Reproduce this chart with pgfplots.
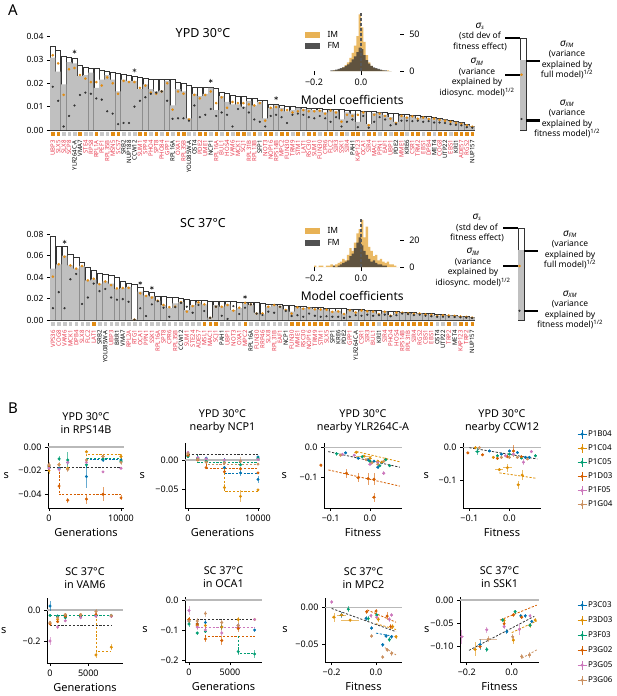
\documentclass[border=0pt]{standalone}
\usepackage{pgfplots}
\pgfplotsset{compat=1.18}
\usepackage{pgfplotstable}
\usepackage{fontspec}
\setmainfont{Noto Sans}
\definecolor{c1}{RGB}{1,115,178}
\definecolor{c2}{RGB}{222,143,5}
\definecolor{c3}{RGB}{2,158,115}
\definecolor{c4}{RGB}{213,94,0}
\definecolor{c5}{RGB}{204,120,188}
\definecolor{c6}{RGB}{202,145,97}
\definecolor{gred}{RGB}{232,58,78}
\definecolor{ora}{RGB}{226,140,20}
\definecolor{barg}{RGB}{192,192,192}
\definecolor{lsq}{RGB}{200,200,200}
\definecolor{imc}{RGB}{232,178,85}
\definecolor{fmc}{RGB}{50,50,50}
\newcommand{\R}[1]{\textcolor{gred}{#1}}
\newcommand{\fs}[2]{\fontsize{#1}{#2}\selectfont}
\newcommand{\sig}[1]{{\fs{10}{10.5}\itshape σ}\textsubscript{\itshape #1}}

\pgfplotstableread{
i s fm im xm sq
1 0.0360 0.0310 0.0320 0.0185 o
2 0.0343 0.0250 0.0285 0.0125 o
3 0.0314 0.0195 0.0150 0.0015 g
4 0.0310 0.0290 0.0260 0.0060 g
5 0.0307 0.0285 0.0265 0.0105 g
6 0.0279 0.0230 0.0235 0.0150 o
7 0.0270 0.0235 0.0220 0.0160 g
8 0.0264 0.0245 0.0205 0.0155 g
9 0.0264 0.0180 0.0205 0.0135 o
10 0.0254 0.0215 0.0190 0.0130 g
11 0.0250 0.0235 0.0225 0.0080 g
12 0.0246 0.0215 0.0200 0.0070 o
13 0.0243 0.0165 0.0155 0.0025 o
14 0.0240 0.0215 0.0210 0.0030 g
15 0.0233 0.0210 0.0205 0.0030 g
16 0.0229 0.0210 0.0205 0.0100 g
17 0.0226 0.0175 0.0180 0.0125 o
18 0.0221 0.0195 0.0190 0.0140 o
19 0.0218 0.0175 0.0160 0.0155 g
20 0.0217 0.0165 0.0155 0.0160 o
21 0.0217 0.0170 0.0165 0.0165 g
22 0.0217 0.0210 0.0200 0.0125 o
23 0.0216 0.0105 0.0087 0.0048 g
24 0.0203 0.0175 0.0165 0.0050 o
25 0.0200 0.0165 0.0155 0.0050 o
26 0.0193 0.0050 0.0045 0.0040 g
27 0.0183 0.0155 0.0150 0.0105 g
28 0.0183 0.0145 0.0135 0.0055 o
29 0.0183 0.0155 0.0150 0.0065 o
30 0.0183 0.0180 0.0165 0.0090 g
31 0.0179 0.0085 0.0115 0.0060 o
32 0.0160 0.0145 0.0140 0.0075 g
33 0.0157 0.0120 0.0095 0.0065 o
34 0.0150 0.0110 0.0120 0.0015 g
35 0.0146 0.0110 0.0115 0.0090 o
36 0.0143 0.0100 0.0115 0.0095 o
37 0.0136 0.0125 0.0110 0.0075 g
38 0.0136 0.0105 0.0105 0.0045 o
39 0.0129 0.0120 0.0115 0.0035 g
40 0.0129 0.0050 0.0040 0.0015 o
41 0.0111 0.0095 0.0095 0.0060 o
42 0.0111 0.0105 0.0098 0.0065 g
43 0.0107 0.0095 0.0085 0.0055 o
44 0.0103 0.0080 0.0085 0.0030 o
45 0.0100 0.0085 0.0075 0.0065 g
46 0.0097 0.0095 0.0080 0.0070 o
47 0.0096 0.0090 0.0085 0.0065 g
48 0.0093 0.0088 0.0080 0.0055 o
49 0.0092 0.0085 0.0080 0.0050 o
50 0.0091 0.0085 0.0082 0.0060 g
51 0.0090 0.0075 0.0070 0.0050 o
52 0.0089 0.0085 0.0083 0.0035 o
53 0.0088 0.0080 0.0075 0.0055 g
54 0.0087 0.0045 0.0035 0.0015 o
55 0.0085 0.0075 0.0065 0.0035 g
56 0.0084 0.0070 0.0060 0.0045 o
57 0.0083 0.0035 0.0065 0.0012 o
58 0.0082 0.0078 0.0075 0.0060 g
59 0.0080 0.0025 0.0020 0.0010 o
60 0.0079 0.0072 0.0065 0.0035 o
61 0.0077 0.0074 0.0070 0.0055 g
62 0.0075 0.0065 0.0060 0.0045 o
63 0.0073 0.0055 0.0048 0.0020 g
64 0.0071 0.0035 0.0030 0.0025 o
65 0.0069 0.0062 0.0060 0.0040 o
66 0.0067 0.0055 0.0053 0.0040 g
67 0.0065 0.0060 0.0058 0.0038 o
68 0.0062 0.0050 0.0048 0.0040 o
69 0.0060 0.0055 0.0053 0.0035 g
70 0.0057 0.0050 0.0047 0.0038 o
71 0.0054 0.0050 0.0049 0.0032 g
72 0.0051 0.0045 0.0043 0.0032 o
73 0.0047 0.0044 0.0040 0.0030 o
74 0.0042 0.0038 0.0035 0.0025 g
75 0.0037 0.0035 0.0030 0.0022 o
76 0.0032 0.0030 0.0026 0.0020 o
77 0.0025 0.0022 0.0020 0.0012 o
78 0.0018 0.0015 0.0014 0.0010 o
}\topdata

\pgfplotstableread{
i s fm im xm sq
1 0.0780 0.0480 0.0405 0.0110 g
2 0.0690 0.0520 0.0520 0.0260 g
3 0.0690 0.0600 0.0590 0.0110 g
4 0.0610 0.0510 0.0510 0.0380 g
5 0.0590 0.0480 0.0480 0.0430 g
6 0.0535 0.0505 0.0505 0.0150 g
7 0.0490 0.0370 0.0370 0.0210 g
8 0.0467 0.0380 0.0385 0.0340 o
9 0.0435 0.0340 0.0335 0.0270 g
10 0.0430 0.0360 0.0360 0.0290 g
11 0.0420 0.0340 0.0325 0.0210 g
12 0.0400 0.0290 0.0295 0.0190 g
13 0.0360 0.0300 0.0298 0.0195 g
14 0.0340 0.0310 0.0300 0.0170 g
15 0.0330 0.0005 0.0003 0.0002 g
16 0.0305 0.0265 0.0250 0.0110 g
17 0.0270 0.0230 0.0225 0.0037 g
18 0.0260 0.0220 0.0210 0.0146 g
19 0.0218 0.0180 0.0180 0.0175 g
20 0.0218 0.0140 0.0140 0.0115 g
21 0.0210 0.0110 0.0120 0.0030 g
22 0.0210 0.0155 0.0125 0.0120 g
23 0.0200 0.0170 0.0165 0.0160 g
24 0.0190 0.0093 0.0078 0.0124 g
25 0.0187 0.0140 0.0130 0.0068 g
26 0.0187 0.0165 0.0165 0.0140 g
27 0.0180 0.0146 0.0146 0.0084 o
28 0.0177 0.0022 0.0020 0.0021 o
29 0.0177 0.0140 0.0124 0.0124 o
30 0.0177 0.0124 0.0124 0.0040 g
31 0.0177 0.0146 0.0140 0.0010 g
32 0.0177 0.0093 0.0087 0.0130 g
33 0.0170 0.0110 0.0115 0.0056 g
34 0.0170 0.0155 0.0160 0.0115 o
35 0.0170 0.0140 0.0146 0.0146 g
36 0.0165 0.0068 0.0060 0.0060 g
37 0.0155 0.0053 0.0060 0.0047 g
38 0.0150 0.0124 0.0124 0.0078 g
39 0.0148 0.0140 0.0140 0.0068 g
40 0.0146 0.0130 0.0124 0.0124 g
41 0.0142 0.0100 0.0093 0.0084 g
42 0.0135 0.0078 0.0060 0.0037 o
43 0.0130 0.0120 0.0118 0.0045 o
44 0.0125 0.0110 0.0105 0.0030 o
45 0.0120 0.0115 0.0110 0.0060 o
46 0.0118 0.0105 0.0100 0.0040 o
47 0.0115 0.0100 0.0098 0.0030 o
48 0.0112 0.0100 0.0095 0.0035 o
49 0.0110 0.0080 0.0075 0.0030 g
50 0.0108 0.0085 0.0080 0.0030 g
51 0.0105 0.0060 0.0055 0.0020 g
52 0.0102 0.0095 0.0090 0.0030 o
53 0.0100 0.0075 0.0070 0.0045 g
54 0.0097 0.0090 0.0088 0.0040 o
55 0.0094 0.0085 0.0082 0.0050 o
56 0.0091 0.0080 0.0078 0.0040 o
57 0.0088 0.0060 0.0055 0.0045 g
58 0.0085 0.0080 0.0078 0.0050 o
59 0.0082 0.0045 0.0040 0.0035 o
60 0.0079 0.0070 0.0068 0.0045 o
61 0.0076 0.0070 0.0068 0.0060 o
62 0.0073 0.0065 0.0062 0.0055 o
63 0.0070 0.0060 0.0058 0.0045 o
64 0.0067 0.0062 0.0060 0.0050 o
65 0.0064 0.0055 0.0052 0.0040 o
66 0.0060 0.0050 0.0048 0.0035 o
67 0.0056 0.0040 0.0038 0.0030 g
68 0.0052 0.0045 0.0043 0.0030 g
69 0.0048 0.0044 0.0042 0.0030 o
70 0.0043 0.0040 0.0038 0.0028 g
71 0.0038 0.0035 0.0033 0.0025 o
72 0.0033 0.0030 0.0029 0.0022 o
73 0.0027 0.0024 0.0022 0.0018 o
}\botdata

\pgfplotsset{
 barax/.style={scale only axis, anchor=south west, clip=false,
  axis x line*=bottom, axis y line*=left,
  x axis line style={draw=none}, y axis line style={draw=none},
  xtick style={draw=none},
  xticklabel style={rotate=90, anchor=east, font=\fs{6}{6}, inner sep=0pt},
  xticklabel shift=7pt,
  yticklabel style={font=\fs{8.5}{9}},
  tick align=outside, major tick length=3pt,
  ytick style={black, line width=0.6pt}, scaled ticks=false},
 histax/.style={scale only axis, anchor=south west, clip=false,
  axis x line*=bottom, axis y line*=right, axis line style={draw=none},
  xmin=-0.24, xmax=0.165, ymin=0,
  xtick={-0.2,0}, xticklabels={−0.2,0.0},
  tick align=outside, major tick length=4pt, tick style={black, line width=0.7pt},
  ticklabel style={font=\fs{9}{10}}, yticklabel style={xshift=2pt},
  xlabel={Model coefficients}, xlabel style={font=\fs{12}{13}, yshift=-3pt},
  scaled ticks=false},
 bax/.style={scale only axis, anchor=north west, clip=false,
  axis lines*=left, axis line style={line width=0.7pt},
  tick align=outside, major tick length=3pt, tick style={black, line width=0.6pt},
  ticklabel style={font=\fs{9}{10}},
  xlabel style={font=\fs{11}{13}},
  ylabel style={font=\fs{11}{13}, rotate=-90, anchor=center},
  title style={font=\fs{10.8}{13}, align=center},
  scaled ticks=false},
 pt/.style={only marks, mark=*, mark size=1.3pt,
  error bars/y dir=both, error bars/y explicit,
  error bars/x dir=both, error bars/x explicit,
  error bars/error mark=none,
  error bars/error bar style={line width=0.7pt, opacity=0.6}},
 dl/.style={dash pattern=on 2.2pt off 1.6pt, line width=0.8pt},
 zl/.style={gray!55, line width=1.3pt},
}

\newcommand{\legimg}[1]{\addlegendimage{legend image code/.code={\draw[#1,line width=0.7pt] (0.16cm,-0.16cm)--(0.16cm,0.16cm) (0cm,0cm)--(0.32cm,0cm); \fill[#1] (0.16cm,0cm) circle (1.4pt);}}}

\begin{document}
\begin{tikzpicture}
\useasboundingbox (0,0) rectangle (617pt,-696pt);

% ---------------- Panel A, top
\begin{axis}[barax, at={(50pt,-130pt)}, width=425pt, height=93.5pt,
  xmin=0.5, xmax=78.5, ymin=0, ymax=0.04,
  xtick={1,...,78},
  xticklabels={\R{UBP3},\R{SLX5},\R{SLX8},\R{SCP8},YLR264C-A,VMA7,\R{STE4},\R{RPS8},\R{RPL1A},\R{PEF1},\R{RPL35B},\R{MSN5},\R{SCS7},SRB2,NUP188,CCW12,\R{SUM1},\R{SPP4},\R{PHO4},\R{SPT8},\R{PHO84},\R{GPP1},RPL16A,\R{OXA1},\R{RPL35B},YOL085W-A,OST4,\R{PDE2},\R{UME1},NCP1,\R{RPL16A},\R{BUL1},\R{HOS4},\R{VAM6},\R{MCK1},\R{SCJ1},\R{RPL31B},\R{RPL13B},SFP1,\R{NOT3},\R{NOP16},\R{RPS14B},\R{MPC2},\R{FUN30},\R{TRM9},\R{STM1},\R{LAT1},\R{RSC30},\R{SUM1},\R{FUN30},\R{CPR6},\R{FLC2},\R{SIR3},\R{SSK1},\R{SIR4},PAH1,\R{KAP123},\R{OCA1},\R{SIR4},\R{MAC1},\R{PPN1},\R{EAF1},\R{UBP1},PDE2,\R{MME1},KRE6,\R{CSR1},\R{TRM2},\R{EBS1},\R{DPB4},MET4,\R{COG8},UTP22,\R{EBS1},KRI1,\R{ADE57},\R{RGS2},NUP157},
  ytick={0,0.01,0.02,0.03,0.04}, yticklabels={0.00,0.01,0.02,0.03,0.04}]
\addplot[ybar, bar shift=0pt, bar width=5pt, fill=white, draw=black!80, line width=0.55pt] table[x=i,y=s] {\topdata};
\addplot[ybar, bar shift=0pt, bar width=5.1pt, fill=barg, draw=none] table[x=i,y=fm] {\topdata};
\addplot[only marks, mark=*, mark size=1.1pt, color=ora] table[x=i,y=im] {\topdata};
\addplot[only marks, mark=*, mark size=0.9pt, color=black!80] table[x=i,y=xm] {\topdata};
\addplot[only marks, mark=asterisk, mark size=2pt, color=black!85, line width=0.5pt] coordinates {(5,0.0335)(16,0.0255)(30,0.0210)(42,0.0136)};
\addplot[scatter, only marks, scatter src=explicit symbolic, mark size=1.3pt,
  scatter/classes={o={mark=square*, draw=ora, fill=ora}, g={mark=square*, draw=lsq, fill=lsq}}]
  table[x=i, y expr=-0.0016, meta=sq] {\topdata};
\end{axis}

% ---------------- Panel A, bottom
\begin{axis}[barax, at={(50pt,-320pt)}, width=425pt, height=85.7pt,
  xmin=0.5, xmax=73.5, ymin=0, ymax=0.08,
  xtick={1,...,73},
  xticklabels={\R{VPS36},\R{COG8},\R{VAM6},\R{MCK1},\R{DPB4},\R{SLX8},\R{FLC2},\R{LAT1},SRB2,YOL085W-A,\R{UBP3},BRR1,VMA7,\R{RPL2A},\R{RTG1},\R{OCA1},\R{PPN1},\R{SSK1},\R{RPL16A},\R{SPT8},\R{CPR6},\R{RPL35B},CCW12,\R{SUM1},\R{STE24},\R{ADE57},\R{MSL1},\R{MAC1},\R{SCJ1},PAH1,\R{UBP1},\R{NOT3},\R{OXA1},\R{MPC2},RPL16A,\R{FUN30},\R{RRP46},\R{SLX8},\R{RPL31B},\R{EAF1},NCP1,\R{FUN30},\R{MME1},\R{RSC30},\R{NOP16},\R{TRM9},\R{STM1},\R{SLX5},SFP1,KRE6,PDE2,\R{GPP1},YLR264C-A,\R{CSR1},\R{SIR3},\R{BUL1},KRI1,\R{SIR4},\R{PHO4},\R{HOS4},\R{RPS14B},\R{RPL31B},\R{SIR4},\R{RGS2},\R{CBS1},\R{EBS1},OST4,UTP22,\R{TRP2},MET4,\R{KAP123},\R{TRP2},NUP157},
  ytick={0,0.02,0.04,0.06,0.08}, yticklabels={0.00,0.02,0.04,0.06,0.08}]
\addplot[ybar, bar shift=0pt, bar width=5.3pt, fill=white, draw=black!80, line width=0.55pt] table[x=i,y=s] {\botdata};
\addplot[ybar, bar shift=0pt, bar width=5.4pt, fill=barg, draw=none] table[x=i,y=fm] {\botdata};
\addplot[only marks, mark=*, mark size=1.1pt, color=ora] table[x=i,y=im] {\botdata};
\addplot[only marks, mark=*, mark size=0.9pt, color=black!80] table[x=i,y=xm] {\botdata};
\addplot[only marks, mark=asterisk, mark size=2pt, color=black!85, line width=0.5pt] coordinates {(3,0.073)(16,0.0345)(18,0.030)(34,0.0215)};
\addplot[scatter, only marks, scatter src=explicit symbolic, mark size=1.3pt,
  scatter/classes={o={mark=square*, draw=ora, fill=ora}, g={mark=square*, draw=lsq, fill=lsq}}]
  table[x=i, y expr=-0.0037, meta=sq] {\botdata};
\end{axis}

% ---------------- Histograms
\begin{axis}[histax, at={(304.6pt,-71pt)}, width=95.2pt, height=61.8pt, ymax=85,
  ytick={0,50}, yticklabels={0,50}]
\addplot[ybar interval, fill=imc, draw=none, fill opacity=0.9] coordinates {(-0.13,0)(-0.12,1)(-0.11,1)(-0.10,2)(-0.09,3)(-0.08,5)(-0.07,8)(-0.06,12)(-0.05,18)(-0.04,25)(-0.03,35)(-0.02,48)(-0.01,78)(0.00,60)(0.01,40)(0.02,22)(0.03,12)(0.04,7)(0.05,4)(0.06,3)(0.07,2)(0.08,1)(0.09,1)(0.10,0)(0.11,1)(0.12,0)(0.13,0)};
\addplot[ybar interval, fill=fmc, draw=none, fill opacity=0.75] coordinates {(-0.13,1)(-0.12,1)(-0.11,2)(-0.10,3)(-0.09,4)(-0.08,5)(-0.07,7)(-0.06,9)(-0.05,12)(-0.04,16)(-0.03,20)(-0.02,26)(-0.01,32)(0.00,30)(0.01,22)(0.02,15)(0.03,10)(0.04,7)(0.05,5)(0.06,4)(0.07,3)(0.08,2)(0.09,1)(0.10,1)(0.11,0)(0.12,0)(0.13,0)};
\addplot[black!65, line width=1.1pt, dash pattern=on 3pt off 2pt] coordinates {(0,0)(0,80)};
\end{axis}

\begin{axis}[histax, at={(304.6pt,-267pt)}, width=95.2pt, height=60.75pt, ymax=45,
  ytick={0,20}, yticklabels={0,20}]
\addplot[ybar interval, fill=imc, draw=none, fill opacity=0.9] coordinates {(-0.20,1)(-0.19,0)(-0.18,1)(-0.17,1)(-0.16,0)(-0.15,1)(-0.14,1)(-0.13,2)(-0.12,1)(-0.11,2)(-0.10,3)(-0.09,4)(-0.08,6)(-0.07,5)(-0.06,9)(-0.05,14)(-0.04,12)(-0.03,18)(-0.02,25)(-0.01,28)(0.00,35)(0.01,22)(0.02,30)(0.03,15)(0.04,12)(0.05,8)(0.06,9)(0.07,5)(0.08,6)(0.09,4)(0.10,3)(0.11,4)(0.12,2)(0.13,2)(0.14,1)(0.15,0)(0.16,0)};
\addplot[ybar interval, fill=fmc, draw=none, fill opacity=0.75] coordinates {(-0.12,1)(-0.11,0)(-0.10,1)(-0.09,2)(-0.08,3)(-0.07,4)(-0.06,5)(-0.05,8)(-0.04,10)(-0.03,14)(-0.02,18)(-0.01,22)(0.00,16)(0.01,12)(0.02,9)(0.03,6)(0.04,4)(0.05,5)(0.06,3)(0.07,2)(0.08,2)(0.09,1)(0.10,1)(0.11,0)};
\addplot[black!65, line width=1.1pt, dash pattern=on 3pt off 2pt] coordinates {(0,0)(0,36)};
\end{axis}

% ---------------- Schematics
\begin{axis}[at={(517pt,-130pt)}, anchor=south west, scale only axis, width=12pt, height=92pt,
  xmin=0, xmax=2, ymin=0, ymax=1, hide axis, clip=false]
\addplot[ybar, bar shift=0pt, bar width=6pt, fill=white, draw=black!80, line width=0.6pt] coordinates {(1,1)};
\addplot[ybar, bar shift=0pt, bar width=5.6pt, fill=barg, draw=none] coordinates {(1,0.76)};
\addplot[only marks, mark=*, mark size=1.1pt, color=ora] coordinates {(0.75,0.60)};
\addplot[only marks, mark=*, mark size=0.9pt, color=black!80] coordinates {(0.75,0.12)};
\end{axis}
\begin{axis}[at={(515pt,-320pt)}, anchor=south west, scale only axis, width=12pt, height=92pt,
  xmin=0, xmax=2, ymin=0, ymax=1, hide axis, clip=false]
\addplot[ybar, bar shift=0pt, bar width=6pt, fill=white, draw=black!80, line width=0.6pt] coordinates {(1,1)};
\addplot[ybar, bar shift=0pt, bar width=5.6pt, fill=barg, draw=none] coordinates {(1,0.76)};
\addplot[only marks, mark=*, mark size=1.1pt, color=ora] coordinates {(0.75,0.587)};
\addplot[only marks, mark=*, mark size=0.9pt, color=black!80] coordinates {(0.75,0.10)};
\end{axis}

% ---------------- Panel B
\begin{axis}[bax, at={(48pt,-443pt)}, width=76pt, height=65pt,
  xmin=-139, xmax=10417, ymin=-0.0516, ymax=0.0034,
  xtick={0,10000}, xticklabels={0,10000}, ytick={-0.04,-0.02,0}, yticklabels={−0.04,−0.02,0.00},
  xlabel={Generations}, ylabel={s}, ylabel style={at={(axis description cs:-0.55,0.5)}},
  title={YPD 30°C\\in RPS14B}]
\addplot[zl] coordinates {(-139,0)(10417,0)};
\addplot[c4, dl] coordinates {(1400,-0.0175)(1400,-0.0405)(10000,-0.0405)};
\addplot[c2, dl] coordinates {(5200,-0.0175)(5200,-0.0060)(10000,-0.0060)};
\addplot[c1, dl] coordinates {(5200,-0.0175)(5200,-0.0105)(10000,-0.0105)};
\addplot[c3, dl] coordinates {(5200,-0.0095)(10000,-0.0095)};
\addplot[black!80, dl] coordinates {(0,-0.0175)(10000,-0.0175)};
\addplot[pt, color=c1] coordinates {(0,-0.016)+-(0,0.002) (1400,-0.018)+-(0,0.001) (2600,-0.013)+-(0,0.002) (5200,-0.025)+-(0,0.010) (7500,-0.011)+-(0,0.002) (10000,-0.011)+-(0,0.002)};
\addplot[pt, color=c2] coordinates {(0,-0.020)+-(0,0.003) (1400,-0.015)+-(0,0.001) (2600,-0.018)+-(0,0.001) (5200,-0.004)+-(0,0.001) (7500,-0.008)+-(0,0.002) (10000,-0.008)+-(0,0.002)};
\addplot[pt, color=c3] coordinates {(0,-0.017)+-(0,0.002) (1400,-0.010)+-(0,0.002) (2600,-0.011)+-(0,0.007) (5200,-0.015)+-(0,0.002) (7500,-0.010)+-(0,0.002) (10000,-0.012)+-(0,0.002)};
\addplot[pt, color=c4] coordinates {(0,-0.016)+-(0,0.002) (1400,-0.033)+-(0,0.001) (2600,-0.045)+-(0,0.002) (5200,-0.044)+-(0,0.004) (7500,-0.040)+-(0,0.006) (10000,-0.043)+-(0,0.002)};
\addplot[pt, color=c5] coordinates {(0,-0.018)+-(0,0.002) (1400,-0.019)+-(0,0.002) (2600,-0.013)+-(0,0.002) (5200,-0.013)+-(0,0.002) (7500,-0.021)+-(0,0.001) (10000,-0.018)+-(0,0.001)};
\addplot[pt, color=c6] coordinates {(0,-0.015)+-(0,0.002) (1400,-0.015)+-(0,0.002) (2600,-0.019)+-(0,0.002) (5200,-0.011)+-(0,0.002) (7500,-0.008)+-(0,0.002) (10000,-0.013)+-(0,0.002)};
\end{axis}

\begin{axis}[bax, at={(185pt,-443pt)}, width=75pt, height=65pt,
  xmin=-429, xmax=10286, ymin=-0.0819, ymax=0.029,
  xtick={0,10000}, xticklabels={0,10000}, ytick={-0.05,0}, yticklabels={−0.05,0.00},
  xlabel={Generations}, ylabel={s}, ylabel style={at={(axis description cs:-0.57,0.5)}},
  title={YPD 30°C\\nearby NCP1}]
\addplot[zl] coordinates {(-429,0)(10286,0)};
\addplot[c3, dl] coordinates {(1400,0.0097)(1400,-0.004)(10000,-0.004)};
\addplot[c6, dl] coordinates {(2600,-0.004)(2600,-0.0075)(10000,-0.0075)};
\addplot[c4, dl] coordinates {(2600,0)(2600,-0.0135)(10000,-0.0135)};
\addplot[c1, dl] coordinates {(5200,0.003)(5200,-0.0225)(10000,-0.0225)};
\addplot[c2, dl] coordinates {(5200,-0.003)(5200,-0.053)(10000,-0.053)};
\addplot[black!80, dl] coordinates {(0,0.0097)(10000,0.0097)};
\addplot[pt, color=c1] coordinates {(0,0.008)+-(0,0.002) (1400,0.004)+-(0,0.001) (2600,0.003)+-(0,0.002) (5200,-0.013)+-(0,0.003) (7500,-0.022)+-(0,0.005) (10000,-0.033)+-(0,0.006) (10000,0.005)+-(0,0.002)};
\addplot[pt, color=c2] coordinates {(0,0.010)+-(0,0.003) (1400,0.002)+-(0,0.002) (2600,-0.003)+-(0,0.002) (5200,-0.047)+-(0,0.006) (7500,-0.062)+-(0,0.010) (10000,-0.051)+-(0,0.002)};
\addplot[pt, color=c3] coordinates {(0,0.006)+-(0,0.002) (1400,0.002)+-(0,0.002) (2600,-0.002)+-(0,0.002) (5200,-0.004)+-(0,0.002) (7500,-0.008)+-(0,0.002) (10000,0.003)+-(0,0.002)};
\addplot[pt, color=c4] coordinates {(0,0.008)+-(0,0.002) (1400,0.000)+-(0,0.002) (2600,-0.013)+-(0,0.001) (5200,-0.020)+-(0,0.002) (7500,-0.015)+-(0,0.002) (10000,-0.022)+-(0,0.002)};
\addplot[pt, color=c5] coordinates {(0,0.013)+-(0,0.003) (1400,0.004)+-(0,0.002) (2600,0.002)+-(0,0.002) (5200,0.000)+-(0,0.002) (7500,-0.002)+-(0,0.002) (10000,0.001)+-(0,0.002)};
\addplot[pt, color=c6] coordinates {(0,0.011)+-(0,0.003) (1400,0.001)+-(0,0.002) (2600,-0.004)+-(0,0.002) (5200,-0.005)+-(0,0.002) (7500,-0.002)+-(0,0.007) (10000,-0.007)+-(0,0.002)};
\end{axis}

\begin{axis}[bax, at={(324pt,-443pt)}, width=78pt, height=65pt,
  xmin=-0.117, xmax=0.0814, ymin=-0.201, ymax=0.0157,
  xtick={-0.1,0}, xticklabels={−0.1,0.0}, ytick={-0.1,0}, yticklabels={−0.1,0.0},
  xlabel={Fitness}, ylabel={s}, ylabel style={at={(axis description cs:-0.51,0.5)}},
  title={YPD 30°C\\nearby YLR264C-A}]
\addplot[zl] coordinates {(-0.117,0)(0.0814,0)};
\addplot[c4, dl] coordinates {(-0.106,-0.074)(0.076,-0.128)};
\addplot[c2, dl] coordinates {(-0.034,-0.013)(0.076,-0.047)};
\addplot[black!80, dl] coordinates {(-0.106,-0.013)(0.076,-0.065)};
\addplot[pt, color=c1] coordinates {(-0.062,-0.017)+-(0.004,0.004) (-0.03,-0.035)+-(0.004,0.004) (-0.005,-0.040)+-(0.004,0.004) (0.01,-0.045)+-(0.004,0.004) (0.02,-0.065)+-(0.004,0.006) (0.03,-0.050)+-(0.004,0.004)};
\addplot[pt, color=c2] coordinates {(-0.035,-0.015)+-(0.005,0.004) (-0.015,-0.028)+-(0.02,0.004) (0.0,-0.035)+-(0.005,0.004) (0.02,-0.045)+-(0.005,0.004) (0.03,-0.048)+-(0.005,0.004) (0.04,-0.038)+-(0.005,0.004)};
\addplot[pt, color=c3] coordinates {(-0.085,-0.020)+-(0.005,0.006) (-0.02,-0.030)+-(0.004,0.004) (0.0,-0.045)+-(0.004,0.004) (0.025,-0.060)+-(0.004,0.004) (0.04,-0.040)+-(0.004,0.004) (0.05,-0.060)+-(0.004,0.004)};
\addplot[pt, color=c4] coordinates {(-0.125,-0.058)+-(0.003,0.005) (-0.06,-0.085)+-(0.005,0.015) (-0.03,-0.100)+-(0.005,0.015) (-0.005,-0.103)+-(0.005,0.020) (0.01,-0.105)+-(0.005,0.020) (0.01,-0.165)+-(0.004,0.015)};
\addplot[pt, color=c5] coordinates {(-0.07,-0.022)+-(0.004,0.004) (-0.04,-0.025)+-(0.004,0.004) (0.0,-0.055)+-(0.004,0.004) (0.02,-0.050)+-(0.004,0.004) (0.035,-0.085)+-(0.004,0.006)};
\addplot[pt, color=c6] coordinates {(-0.075,-0.025)+-(0.004,0.004) (-0.01,-0.040)+-(0.004,0.004) (0.005,-0.050)+-(0.004,0.004) (0.02,-0.055)+-(0.004,0.004) (0.035,-0.045)+-(0.004,0.004)};
\end{axis}

\begin{axis}[bax, at={(463pt,-443pt)}, width=78pt, height=65pt,
  xmin=-0.116, xmax=0.079, ymin=-0.187, ymax=0.0146,
  xtick={-0.1,0}, xticklabels={−0.1,0.0}, ytick={-0.1,0}, yticklabels={−0.1,0.0},
  xlabel={Fitness}, ylabel={s}, ylabel style={at={(axis description cs:-0.47,0.5)}},
  title={YPD 30°C\\nearby CCW12}]
\addplot[zl] coordinates {(-0.116,0)(0.079,0)};
\addplot[c2, dl] coordinates {(-0.025,-0.078)(0.068,-0.095)};
\addplot[black!80, dl] coordinates {(-0.1,0.000)(0.07,-0.035)};
\addplot[pt, color=c1] coordinates {(-0.05,-0.010)+-(0.004,0.004) (-0.02,-0.020)+-(0.004,0.004) (0.0,-0.010)+-(0.004,0.004) (0.02,-0.015)+-(0.004,0.004) (0.04,-0.030)+-(0.004,0.004) (0.05,-0.030)+-(0.004,0.004)};
\addplot[pt, color=c2] coordinates {(-0.085,0.000)+-(0.004,0.004) (-0.04,-0.030)+-(0.004,0.004) (-0.025,-0.068)+-(0.010,0.004) (-0.005,-0.062)+-(0.012,0.012) (0.022,-0.115)+-(0.004,0.012) (0.032,-0.085)+-(0.004,0.016)};
\addplot[pt, color=c3] coordinates {(-0.08,-0.012)+-(0.006,0.012) (-0.03,-0.025)+-(0.004,0.004) (0.0,-0.020)+-(0.004,0.004) (0.03,-0.032)+-(0.004,0.004) (0.065,-0.025)+-(0.004,0.004)};
\addplot[pt, color=c4] coordinates {(-0.104,-0.016)+-(0.003,0.004) (-0.067,-0.022)+-(0.004,0.004) (-0.03,-0.033)+-(0.004,0.004) (-0.005,-0.028)+-(0.004,0.004) (0.01,-0.010)+-(0.004,0.018) (0.03,-0.028)+-(0.004,0.004)};
\addplot[pt, color=c5] coordinates {(-0.01,-0.025)+-(0.004,0.004) (0.01,-0.020)+-(0.004,0.004) (0.035,-0.045)+-(0.004,0.010) (0.055,-0.012)+-(0.004,0.004)};
\addplot[pt, color=c6] coordinates {(-0.075,0.000)+-(0.004,0.004) (-0.02,-0.030)+-(0.004,0.004) (0.0,-0.030)+-(0.004,0.004) (0.02,-0.030)+-(0.004,0.004) (0.045,-0.035)+-(0.004,0.004)};
\end{axis}

\begin{axis}[bax, at={(47pt,-598pt)}, width=76pt, height=65pt,
  xmin=-392, xmax=9530, ymin=-0.342, ymax=0.077,
  xtick={0,5000}, xticklabels={0,5000}, ytick={-0.2,0}, yticklabels={−0.2,0.0},
  xlabel={Generations}, ylabel={s}, ylabel style={at={(axis description cs:-0.57,0.5)}},
  title={SC 37°C\\in VAM6}]
\addplot[zl] coordinates {(-392,0)(9530,0)};
\addplot[c3, dl] coordinates {(0,-0.035)(8000,-0.035)};
\addplot[c2, dl] coordinates {(6000,-0.035)(6000,-0.265)(8000,-0.265)};
\addplot[black!80, dl] coordinates {(0,-0.097)(8000,-0.097)};
\addplot[pt, color=c1] coordinates {(0,0.025)+-(0,0.030) (1000,-0.040)+-(0,0.010) (2000,-0.045)+-(0,0.010) (4000,-0.045)+-(0,0.010) (6000,-0.035)+-(0,0.010) (8000,-0.040)+-(0,0.010)};
\addplot[pt, color=c2] coordinates {(0,-0.085)+-(0,0.015) (1000,-0.060)+-(0,0.010) (2000,-0.030)+-(0,0.010) (4000,-0.030)+-(0,0.010) (6000,-0.290)+-(0,0.020) (8000,-0.240)+-(0,0.020)};
\addplot[pt, color=c3] coordinates {(0,-0.035)+-(0,0.010) (1000,-0.040)+-(0,0.010) (2000,-0.050)+-(0,0.010) (4000,-0.040)+-(0,0.010) (6000,-0.035)+-(0,0.010) (8000,-0.035)+-(0,0.010)};
\addplot[pt, color=c4] coordinates {(0,-0.090)+-(0,0.015) (1000,-0.075)+-(0,0.010) (2000,-0.040)+-(0,0.010) (4000,-0.035)+-(0,0.010) (6000,-0.030)+-(0,0.010) (8000,-0.040)+-(0,0.010)};
\addplot[pt, color=c5] coordinates {(0,-0.200)+-(0,0.025) (1000,-0.110)+-(0,0.010) (2000,-0.070)+-(0,0.010) (4000,-0.050)+-(0,0.010) (6000,-0.040)+-(0,0.010) (8000,-0.040)+-(0,0.010)};
\addplot[pt, color=c6] coordinates {(0,-0.080)+-(0,0.010) (1000,-0.050)+-(0,0.010) (2000,-0.030)+-(0,0.010) (4000,-0.030)+-(0,0.010) (6000,-0.010)+-(0,0.015) (8000,-0.035)+-(0,0.010)};
\end{axis}

\begin{axis}[bax, at={(185pt,-597pt)}, width=77pt, height=65pt,
  xmin=-488, xmax=8902, ymin=-0.2067, ymax=0.01,
  xtick={0,5000}, xticklabels={0,5000}, ytick={-0.2,-0.1,0}, yticklabels={−0.2,−0.1,0.0},
  xlabel={Generations}, ylabel={s}, ylabel style={at={(axis description cs:-0.52,0.5)}},
  title={SC 37°C\\in OCA1}]
\addplot[zl] coordinates {(-488,0)(8902,0)};
\addplot[c5, dl] coordinates {(1000,-0.065)(1000,-0.090)(8000,-0.090)};
\addplot[c4, dl] coordinates {(2000,-0.090)(2000,-0.120)(8000,-0.120)};
\addplot[c3, dl] coordinates {(6000,-0.120)(6000,-0.178)(8000,-0.178)};
\addplot[black!80, dl] coordinates {(0,-0.065)(8000,-0.065)};
\addplot[pt, color=c1] coordinates {(0,-0.070)+-(0,0.010) (1000,-0.080)+-(0,0.010) (2000,-0.075)+-(0,0.010) (4000,-0.090)+-(0,0.010) (6000,-0.085)+-(0,0.010) (8000,-0.100)+-(0,0.005)};
\addplot[pt, color=c2] coordinates {(0,-0.065)+-(0,0.010) (1000,-0.085)+-(0,0.010) (2000,-0.085)+-(0,0.010) (4000,-0.090)+-(0,0.010) (6000,-0.065)+-(0,0.010) (8000,-0.065)+-(0,0.005)};
\addplot[pt, color=c3] coordinates {(0,-0.080)+-(0,0.010) (1000,-0.110)+-(0,0.005) (2000,-0.105)+-(0,0.005) (6000,-0.172)+-(0,0.012) (8000,-0.180)+-(0,0.015)};
\addplot[pt, color=c4] coordinates {(0,-0.065)+-(0,0.010) (1000,-0.080)+-(0,0.010) (2000,-0.130)+-(0,0.010) (4000,-0.135)+-(0,0.015) (6000,-0.095)+-(0,0.010)};
\addplot[pt, color=c5] coordinates {(0,-0.035)+-(0,0.015) (1000,-0.090)+-(0,0.010) (2000,-0.100)+-(0,0.010) (4000,-0.110)+-(0,0.010) (6000,-0.085)+-(0,0.010) (8000,-0.065)+-(0,0.005)};
\addplot[pt, color=c6] coordinates {(0,-0.070)+-(0,0.010) (1000,-0.070)+-(0,0.010) (2000,-0.045)+-(0,0.010) (4000,-0.075)+-(0,0.010) (6000,-0.085)+-(0,0.010)};
\end{axis}

\begin{axis}[bax, at={(325pt,-598pt)}, width=77pt, height=64pt,
  xmin=-0.230, xmax=0.117, ymin=-0.0748, ymax=0.0134,
  xtick={-0.2,0}, xticklabels={−0.2,0.0}, ytick={-0.05,0}, yticklabels={−0.05,0.00},
  xlabel={Fitness}, ylabel={s}, ylabel style={at={(axis description cs:-0.52,0.5)}},
  title={SC 37°C\\in MPC2}]
\addplot[zl] coordinates {(-0.230,0)(0.117,0)};
\addplot[c4, dl] coordinates {(-0.04,-0.003)(0.09,-0.020)};
\addplot[c1, dl] coordinates {(0.0,-0.035)(0.09,-0.040)};
\addplot[c6, dl] coordinates {(0.04,-0.055)(0.09,-0.065)};
\addplot[c2, dl] coordinates {(0.0,-0.022)(0.09,-0.030)};
\addplot[black!80, dl] coordinates {(-0.2,-0.001)(0.09,-0.033)};
\addplot[pt, color=c1] coordinates {(-0.155,-0.010)+-(0.010,0.004) (-0.045,-0.0147)+-(0.005,0.003) (-0.02,-0.028)+-(0.005,0.003) (0.045,-0.039)+-(0.005,0.003) (0.07,-0.040)+-(0.005,0.003) (0.03,-0.051)+-(0.005,0.003)};
\addplot[pt, color=c2] coordinates {(-0.19,-0.013)+-(0.010,0.006) (-0.155,-0.010)+-(0.020,0.003) (-0.117,-0.017)+-(0.040,0.002) (0.01,-0.016)+-(0.005,0.003) (0.09,-0.040)+-(0.005,0.003) (0.075,-0.026)+-(0.005,0.003)};
\addplot[pt, color=c3] coordinates {(-0.125,-0.002)+-(0.005,0.004) (-0.035,-0.015)+-(0.005,0.003) (0.003,-0.010)+-(0.005,0.003) (0.06,-0.044)+-(0.005,0.003)};
\addplot[pt, color=c4] coordinates {(-0.042,-0.0055)+-(0.005,0.003) (0.0,-0.0046)+-(0.005,0.003) (0.05,-0.0115)+-(0.005,0.005) (0.066,-0.026)+-(0.005,0.003)};
\addplot[pt, color=c5] coordinates {(-0.20,0.008)+-(0.005,0.003) (-0.023,-0.011)+-(0.005,0.003) (0.003,-0.013)+-(0.005,0.003) (0.06,-0.016)+-(0.005,0.003) (0.07,-0.010)+-(0.005,0.003)};
\addplot[pt, color=c6] coordinates {(-0.02,-0.039)+-(0.005,0.003) (0.05,-0.058)+-(0.005,0.003) (0.03,-0.068)+-(0.005,0.003) (0.07,-0.063)+-(0.005,0.003)};
\end{axis}

\begin{axis}[bax, at={(460pt,-597pt)}, width=79pt, height=65pt,
  xmin=-0.23, xmax=0.121, ymin=-0.133, ymax=0.0064,
  xtick={-0.2,0}, xticklabels={−0.2,0.0}, ytick={-0.1,-0.05,0}, yticklabels={−0.10,−0.05,0.00},
  xlabel={Fitness}, ylabel={s}, ylabel style={at={(axis description cs:-0.42,0.5)}},
  title={SC 37°C\\in SSK1}]
\addplot[zl] coordinates {(-0.23,0)(0.121,0)};
\addplot[c4, dl] coordinates {(-0.052,-0.043)(0.111,-0.011)};
\addplot[c6, dl] coordinates {(0.044,-0.125)(0.111,-0.107)};
\addplot[c2, dl] coordinates {(0.0,-0.070)(0.111,-0.045)};
\addplot[black!80, dl] coordinates {(-0.19,-0.108)(0.10,-0.035)};
\addplot[pt, color=c1] coordinates {(-0.141,-0.096)+-(0.010,0.012) (-0.022,-0.068)+-(0.005,0.005) (0.04,-0.034)+-(0.005,0.004) (0.06,-0.034)+-(0.005,0.004) (0.089,-0.046)+-(0.005,0.004)};
\addplot[pt, color=c2] coordinates {(-0.163,-0.106)+-(0.010,0.015) (-0.034,-0.044)+-(0.005,0.005) (0.007,-0.086)+-(0.005,0.008) (0.081,-0.054)+-(0.005,0.005) (0.104,-0.043)+-(0.005,0.005)};
\addplot[pt, color=c3] coordinates {(-0.111,-0.106)+-(0.005,0.006) (-0.04,-0.043)+-(0.005,0.004) (0.015,-0.025)+-(0.005,0.004) (0.081,-0.054)+-(0.005,0.004)};
\addplot[pt, color=c4] coordinates {(-0.141,-0.100)+-(0.010,0.006) (-0.034,-0.051)+-(0.005,0.004) (0.007,-0.032)+-(0.005,0.004) (0.044,-0.037)+-(0.005,0.004)};
\addplot[pt, color=c5] coordinates {(-0.222,-0.079)+-(0.008,0.015) (-0.111,-0.064)+-(0.006,0.006) (-0.034,-0.057)+-(0.005,0.005) (0.034,-0.063)+-(0.005,0.012) (0.081,-0.034)+-(0.005,0.004)};
\addplot[pt, color=c6] coordinates {(-0.104,-0.084)+-(0.040,0.006) (0.004,-0.079)+-(0.005,0.005) (0.044,-0.121)+-(0.005,0.006) (0.079,-0.118)+-(0.005,0.006)};
\end{axis}

% ---------------- Legends
\begin{axis}[at={(577pt,-429pt)}, anchor=north west, scale only axis, width=1pt, height=1pt,
  xmin=0, xmax=1, ymin=0, ymax=1, hide axis,
  legend style={at={(0,1)}, anchor=north west, draw=none, fill=none, font=\fs{8}{9},
   inner sep=0pt, row sep=4.3pt, nodes={inner sep=1pt}, legend cell align=left,
   /tikz/every even column/.append style={column sep=2.5pt}}]
\legimg{c1}\addlegendentry{P1B04}
\legimg{c2}\addlegendentry{P1C04}
\legimg{c3}\addlegendentry{P1C05}
\legimg{c4}\addlegendentry{P1D03}
\legimg{c5}\addlegendentry{P1F05}
\legimg{c6}\addlegendentry{P1G04}
\end{axis}
\begin{axis}[at={(577pt,-600pt)}, anchor=north west, scale only axis, width=1pt, height=1pt,
  xmin=0, xmax=1, ymin=0, ymax=1, hide axis,
  legend style={at={(0,1)}, anchor=north west, draw=none, fill=none, font=\fs{8}{9},
   inner sep=0pt, row sep=5.2pt, nodes={inner sep=1pt}, legend cell align=left,
   /tikz/every even column/.append style={column sep=2.5pt}}]
\legimg{c1}\addlegendentry{P3C03}
\legimg{c2}\addlegendentry{P3D03}
\legimg{c3}\addlegendentry{P3F03}
\legimg{c4}\addlegendentry{P3G02}
\legimg{c5}\addlegendentry{P3G05}
\legimg{c6}\addlegendentry{P3G06}
\end{axis}

% ---------------- Annotations
\begin{scope}[x=1pt, y=-1pt]
\node[font=\fs{15}{16}] at (13,10) {A};
\node[font=\fs{15}{16}] at (13,408) {B};
\node[font=\fs{12.5}{14}] at (203,33) {YPD 30°C};
\node[font=\fs{12.5}{14}] at (203,223) {SC 37°C};
% hist legends
\fill[imc] (305,32) rectangle (320,37.5);
\fill[fmc!85] (305,43) rectangle (320,48.5);
\node[font=\fs{8.5}{9}, anchor=west] at (324,34.5) {IM};
\node[font=\fs{8.5}{9}, anchor=west] at (324,45.5) {FM};
\fill[imc] (305,228) rectangle (320,233.5);
\fill[fmc!85] (305,240) rectangle (320,245.5);
\node[font=\fs{8.5}{9}, anchor=west] at (324,230.5) {IM};
\node[font=\fs{8.5}{9}, anchor=west] at (324,242.5) {FM};
% schematic top
\draw[line width=2.2pt] (505,38)--(520,38);
\draw[line width=2.2pt] (505,75)--(520,75);
\draw[line width=2.2pt] (526,61)--(540,61);
\draw[line width=2.2pt] (526,120.5)--(540,120.5);
\node[font=\fs{8.5}{10.5}, align=center] at (480,36.5) {\sig{s}\\(std dev of\\fitness effect)};
\node[font=\fs{8.5}{10.5}, align=center] at (477,78) {\sig{IM}\\(variance\\explained by\\idiosync. model)\textsuperscript{1/2}};
\node[font=\fs{8.5}{10.5}, align=center] at (567,60) {\sig{FM}\\(variance\\explained by\\full model)\textsuperscript{1/2}};
\node[font=\fs{8.5}{10.5}, align=center] at (567,119) {\sig{XM}\\(variance\\explained by\\fitness model)\textsuperscript{1/2}};
% schematic bottom
\draw[line width=2.2pt] (503,228)--(518,228);
\draw[line width=2.2pt] (503,266)--(518,266);
\draw[line width=2.2pt] (524,251)--(538,251);
\draw[line width=2.2pt] (524,311)--(538,311);
\node[font=\fs{8.5}{10.5}, align=center] at (477,228) {\sig{s}\\(std dev of\\fitness effect)};
\node[font=\fs{8.5}{10.5}, align=center] at (473,268) {\sig{IM}\\(variance\\explained by\\idiosync. model)\textsuperscript{1/2}};
\node[font=\fs{8.5}{10.5}, align=center] at (570,250) {\sig{FM}\\(variance\\explained by\\full model)\textsuperscript{1/2}};
\node[font=\fs{8.5}{10.5}, align=center] at (570,310) {\sig{XM}\\(variance\\explained by\\fitness model)\textsuperscript{1/2}};
\end{scope}
\end{tikzpicture}
\end{document}
